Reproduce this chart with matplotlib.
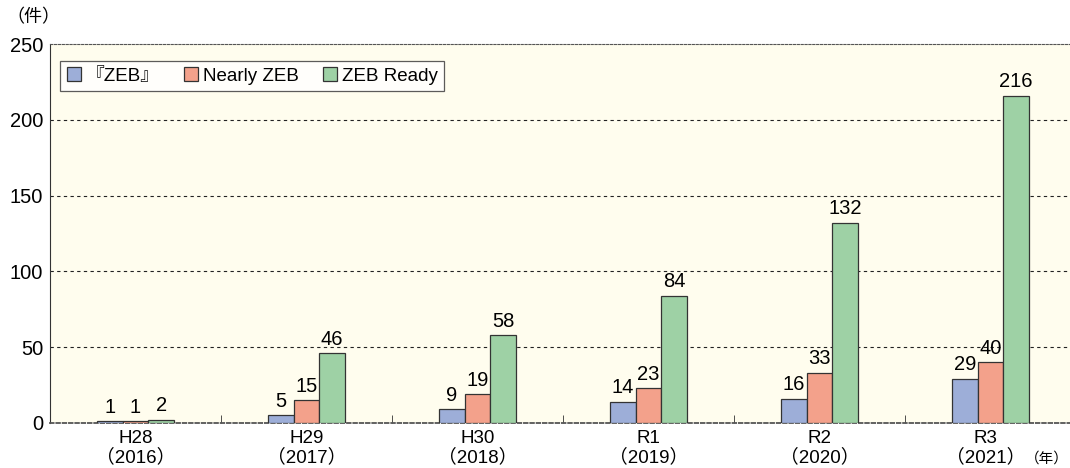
import matplotlib
matplotlib.use("Agg")
import matplotlib.pyplot as plt
import matplotlib.transforms as mtrans
import numpy as np

plt.rcParams["font.family"] = ["Liberation Sans", "Noto Sans CJK JP", "DejaVu Sans"]

years = ["H28\n（2016）", "H29\n（2017）", "H30\n（2018）", "R1\n（2019）", "R2\n（2020）", "R3\n（2021）"]
series = ["『ZEB』", "Nearly ZEB", "ZEB Ready"]
zeb = [1, 5, 9, 14, 16, 29]
nearly = [1, 15, 19, 23, 33, 40]
ready = [2, 46, 58, 84, 132, 216]
colors = ["#9daed8", "#f3a18b", "#9ed1a5"]

fig = plt.figure(figsize=(10.7, 4.68), dpi=100)
ax = fig.add_axes([50 / 1070, 1 - 423 / 468, 1 - 50 / 1070, (423 - 44) / 468])
ax.set_facecolor("#fffdee")

x = np.arange(len(years))
w = 0.15
for i, (vals, lab, c) in enumerate(zip([zeb, nearly, ready], series, colors)):
    pos = x + (i - 1) * w
    ax.bar(pos, vals, w, color=c, edgecolor="#333333", linewidth=0.9, label=lab, zorder=3)
    for p, v in zip(pos, vals):
        ax.text(p, v + 3, str(v), ha="center", va="bottom", fontsize=14.5, zorder=4)

ax.set_ylim(0, 250)
ax.set_xlim(-0.5, -0.5 + 1020 / 171)
ax.set_yticks([0, 50, 100, 150, 200, 250])
ax.tick_params(axis="y", length=0, labelsize=14.5, pad=5)
ax.set_xticks(x, years)
ax.tick_params(axis="x", length=0, labelsize=13.5, pad=5)
ax.set_xticks(x[:-1] + 0.5, minor=True)
ax.tick_params(axis="x", which="minor", direction="in", length=6, color="#333333")
for t in ax.get_xticklabels():
    t.set_linespacing(1.1)
for yv in [50, 100, 150, 200]:
    ax.axhline(yv, color="#222222", lw=0.8, ls=(0, (3, 3)), zorder=1)

ax.spines["right"].set_visible(False)
ax.spines["left"].set_color("#333333")
ax.spines["top"].set_linestyle((0, (2, 1.5)))
ax.spines["top"].set_color("#555555")
ax.spines["bottom"].set_linestyle((0, (2, 1.5)))
ax.spines["bottom"].set_color("#555555")
ax.spines["bottom"].set_linewidth(1.3)

leg = ax.legend(loc="upper left", bbox_to_anchor=(0.001, 0.981), ncol=3, fontsize=13.5,
                frameon=True, fancybox=False, handlelength=0.75, handleheight=0.75,
                handletextpad=0.25, columnspacing=1.3, borderpad=0.35)
leg.get_frame().set_edgecolor("#333333")
leg.get_frame().set_linewidth(0.9)
leg.get_frame().set_facecolor("white")

fig.text(6 / 1070, 1 - 18 / 468, "（件）", fontsize=13, va="center", ha="left")

# nudge the last label a little left to leave room for the year unit
last = ax.get_xticklabels()[-1]
last.set_transform(last.get_transform() + mtrans.ScaledTranslation(-5 / 100, 0, fig.dpi_scale_trans))
fig.canvas.draw()
bb = last.get_window_extent()
fig.text(1069 / 1070, (bb.y0 + 1) / 468, "（年）", fontsize=10.5, va="bottom", ha="right")

fig.savefig("out.png", dpi=100)
